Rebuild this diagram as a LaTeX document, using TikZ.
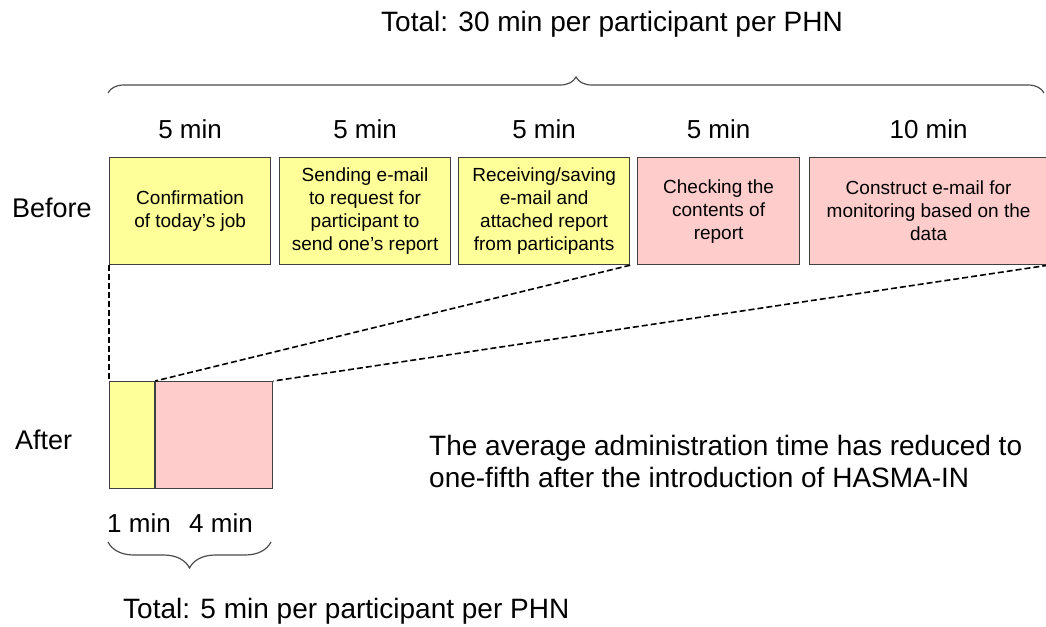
\documentclass[tikz,border=0pt]{standalone}
\usepackage{fontspec}
\setmainfont{Liberation Sans}
\usetikzlibrary{positioning,decorations.pathreplacing}

\definecolor{jobyellow}{HTML}{FFFF99}
\definecolor{jobpink}{HTML}{FFCCCC}

\begin{document}
\begin{tikzpicture}[x=1pt,y=-1pt,
        task/.style={draw=black!75,line width=1.2pt,anchor=north west,inner sep=0pt,
            minimum height=107pt,align=center,font=\fontsize{19}{23}\selectfont},
        minlabel/.style={inner sep=0pt,font=\fontsize{26}{30}\selectfont},
        bigtext/.style={inner sep=0pt,font=\fontsize{28}{32}\selectfont},
        zoomline/.style={line width=1.6pt,dash pattern=on 6pt off 3pt},
        span/.style={decorate,decoration={brace,amplitude=#1},line width=1.2pt,draw=black!70}]

    \useasboundingbox (0,0) rectangle (1046,626);

    % before: the five steps
    \node [task,fill=jobyellow,minimum width=161pt] (b1) at (109,157) {Confirmation\\of today's job};
    \node [task,fill=jobyellow,minimum width=171pt] (b2) at (279,157) {Sending e-mail\\to request for\\participant to\\send one's report};
    \node [task,fill=jobyellow,minimum width=171pt] (b3) at (458,157) {Receiving/saving\\e-mail and\\attached report\\from participants};
    \node [task,fill=jobpink,minimum width=162pt]   (b4) at (637,157) {Checking the\\contents of\\report};
    \node [task,fill=jobpink,minimum width=238pt]   (b5) at (809,157) {Construct e-mail for\\monitoring based on the\\data};

    \node [minlabel,above=18pt of b1] (t1) {5 min};
    \node [minlabel,above=18pt of b2] (t2) {5 min};
    \node [minlabel,above=18pt of b3] (t3) {5 min};
    \node [minlabel,above=18pt of b4] (t4) {5 min};
    \node [minlabel,above=18pt of b5] (t5) {10 min};

    % after
    \node [task,fill=jobyellow,minimum width=45pt] (a1) at (109,381) {};
    \node [task,fill=jobpink,minimum width=117pt,right=0pt of a1] (a2) {};

    \draw [zoomline] (b1.south west) -- (a1.north west);
    \draw [zoomline] (b3.south east) -- (a1.north east);
    \draw [zoomline] (b5.south east) -- (a2.north east);

    \node [minlabel,anchor=base west] (m1) at (107,532) {1 min};
    \node [minlabel,anchor=base west] (m2) at (189,532) {4 min};

    % braces and totals
    \draw [span=16pt] (108,93) -- (1044,93);
    \draw [span=26pt] (271,542) -- (108,542);

    \node [bigtext,anchor=base west] (total1) at (381,32) {Total: 30 min per participant per PHN};
    \node [bigtext,anchor=base west] (total2) at (123,618) {Total: 5 min per participant per PHN};

    \node [minlabel,font=\fontsize{27}{31}\selectfont,anchor=west] (before) at (12,208) {Before};
    \node [minlabel,font=\fontsize{27}{31}\selectfont,anchor=west] (after) at (15,440) {After};

    \node [bigtext,anchor=base west] (msg1) at (429,455) {The average administration time has reduced to};
    \node [bigtext,anchor=base west] (msg2) at ([yshift=-32pt]msg1.base west) {one-fifth after the introduction of HASMA-IN};
\end{tikzpicture}
\end{document}
